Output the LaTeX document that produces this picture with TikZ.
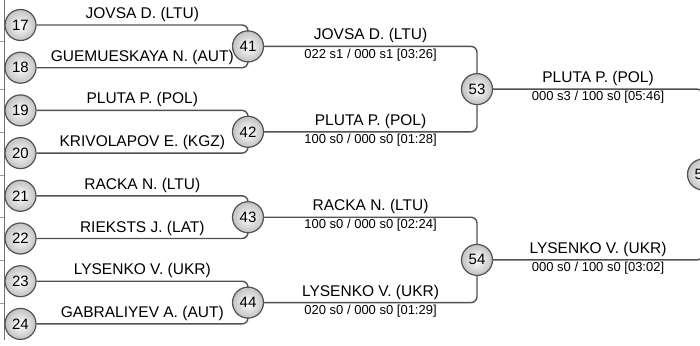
\documentclass[tikz,border=0pt]{standalone}
\usepackage{fontspec}
\setmainfont{Liberation Sans}
\usetikzlibrary{positioning}

\begin{document}
\begin{tikzpicture}[x=1pt,y=-1pt,
  bout/.style={circle,draw=black!68,line width=1.2pt,inner color=white,outer color=black!24,minimum size=31pt,inner sep=0pt,font=\fontsize{15}{15}\selectfont},
  wire/.style={draw=black!68,line width=1.4pt,rounded corners=6pt},
  player/.style={pos=0.25,above,inner sep=2.5pt,font=\fontsize{15.5}{16}\selectfont},
  score/.style={pos=0.25,below,inner sep=1.5pt,font=\fontsize{13}{14}\selectfont}]
\useasboundingbox (0,0) rectangle (700,345);
\clip (0,0) rectangle (700,345);

\draw[black!55,line width=1pt] (4,0) -- (4,340);
\draw[black!40,line width=0.8pt] (0,41) -- (4,41) (0,89) -- (4,89) (0,132) -- (4,132) (0,175) -- (4,175) (0,217) -- (4,217) (0,260) -- (4,260) (0,303) -- (4,303);

\node[bout] (n17) at (20.5,25) {17};
\node[bout] (n18) at (20.5,67.7) {18};
\node[bout] (n19) at (20.5,110.4) {19};
\node[bout] (n20) at (20.5,153.1) {20};
\node[bout] (n21) at (20.5,195.8) {21};
\node[bout] (n22) at (20.5,238.5) {22};
\node[bout] (n23) at (20.5,281.2) {23};
\node[bout] (n24) at (20.5,323.9) {24};

\node[bout] (n41) at (248,46.4) {41};
\node[bout] (n42) at (248,131.8) {42};
\node[bout] (n43) at (248,217.2) {43};
\node[bout] (n44) at (248,302.6) {44};

\node[bout] (n53) at (477,89.1) {53};
\node[bout] (n54) at (477,259.9) {54};

\node[bout] (n59) at (703,174.5) {59};

\draw[wire] (n17) -| node[player] {JOVSA D. (LTU)} (n41);
\draw[wire] (n18) -| node[player] {GUEMUESKAYA N. (AUT)} (n41);
\draw[wire] (n19) -| node[player] {PLUTA P. (POL)} (n42);
\draw[wire] (n20) -| node[player] {KRIVOLAPOV E. (KGZ)} (n42);
\draw[wire] (n21) -| node[player] {RACKA N. (LTU)} (n43);
\draw[wire] (n22) -| node[player] {RIEKSTS J. (LAT)} (n43);
\draw[wire] (n23) -| node[player] {LYSENKO V. (UKR)} (n44);
\draw[wire] (n24) -| node[player] {GABRALIYEV A. (AUT)} (n44);

\draw[wire] (n41) -| node[player] {JOVSA D. (LTU)} node[score] {022 s1 / 000 s1 [03:26]} (n53);
\draw[wire] (n42) -| node[player] {PLUTA P. (POL)} node[score] {100 s0 / 000 s0 [01:28]} (n53);
\draw[wire] (n43) -| node[player] {RACKA N. (LTU)} node[score] {100 s0 / 000 s0 [02:24]} (n54);
\draw[wire] (n44) -| node[player] {LYSENKO V. (UKR)} node[score] {020 s0 / 000 s0 [01:29]} (n54);

\draw[wire] (n53) -| node[player] {PLUTA P. (POL)} node[score] {000 s3 / 100 s0 [05:46]} (n59);
\draw[wire] (n54) -| node[player] {LYSENKO V. (UKR)} node[score] {000 s0 / 100 s0 [03:02]} (n59);

\end{tikzpicture}
\end{document}
